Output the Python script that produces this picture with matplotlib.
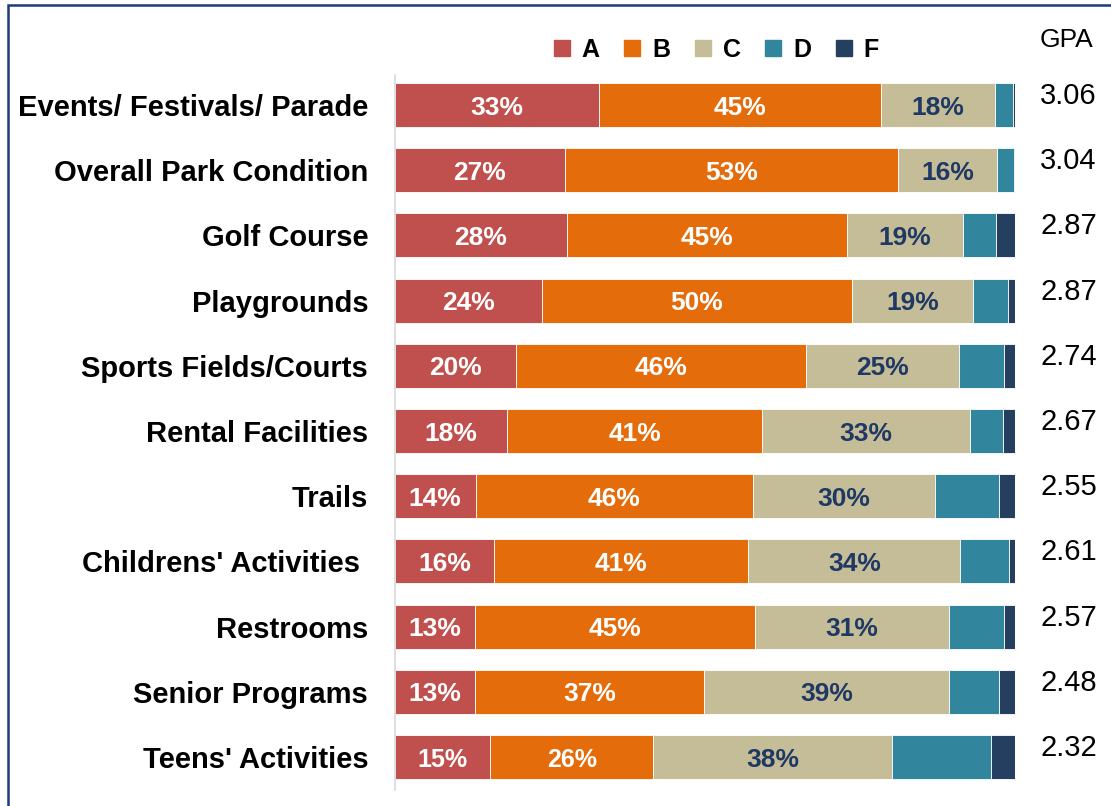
import numpy as np
import matplotlib
matplotlib.use('Agg')
import matplotlib.pyplot as plt
from matplotlib.patches import Rectangle
from matplotlib.lines import Line2D

plt.rcParams['font.family'] = ['Liberation Sans', 'DejaVu Sans']

categories = ['Events/ Festivals/ Parade', 'Overall Park Condition', 'Golf Course',
              'Playgrounds', 'Sports Fields/Courts', 'Rental Facilities', 'Trails',
              "Childrens' Activities ", 'Restrooms', 'Senior Programs', "Teens' Activities"]

# share of grades (%)
grade_a = [33.0, 27.5, 27.8, 23.8, 19.6, 18.2, 13.1, 16.1, 12.9, 12.9, 15.4]
grade_b = [45.4, 53.7, 45.1, 49.9, 46.7, 41.0, 44.6, 40.9, 45.2, 37.0, 26.3]
grade_c = [18.3, 15.9, 18.7, 19.5, 24.7, 33.5, 29.4, 34.2, 31.3, 39.5, 38.4]
grade_d = [3.0, 2.7, 5.3, 5.6, 7.3, 5.3, 10.4, 7.8, 8.9, 8.1, 16.0]
grade_f = [0.3, 0.2, 3.1, 1.2, 1.7, 2.0, 2.5, 1.0, 1.7, 2.5, 3.9]

# printed labels
label_a = [33, 27, 28, 24, 20, 18, 14, 16, 13, 13, 15]
label_b = [45, 53, 45, 50, 46, 41, 46, 41, 45, 37, 26]
label_c = [18, 16, 19, 19, 25, 33, 30, 34, 31, 39, 38]

gpa = ['3.06', '3.04', '2.87', '2.87', '2.74', '2.67', '2.55', '2.61', '2.57', '2.48', '2.32']

grades = ['A', 'B', 'C', 'D', 'F']
colors = ['#C0504D', '#E46C0A', '#C4BD97', '#31859C', '#243F60']
navy = '#1F3864'

fig = plt.figure(figsize=(11.11, 8.06), dpi=100)
ax = fig.add_axes([0.3551, 0.01985, 0.5585, 0.8871])

y = np.arange(len(categories))
h = 0.675
series = [grade_a, grade_b, grade_c, grade_d, grade_f]
left = np.zeros(len(categories))
for vals, col in zip(series, colors):
    ax.barh(y, vals, left=left, height=h, color=col, edgecolor='white', linewidth=0.6)
    left = left + np.array(vals)

# small dark ledge at the end of each bar
lh = 0.07
ax.barh(y + h / 2 - lh / 2, 0.8, left=left, height=lh, color=colors[4], linewidth=0)

# value labels
narrow = ['Liberation Sans Narrow', 'Liberation Sans', 'DejaVu Sans']
ty = y + 0.04
for i in range(len(categories)):
    last = i == len(categories) - 1
    kw = dict(family=narrow, fontsize=18) if last else dict(fontsize=19)
    ax.text(grade_a[i] / 2, ty[i], f'{label_a[i]}%', ha='center', va='center',
            color='white', fontweight='bold', **kw)
    ax.text(grade_a[i] + grade_b[i] / 2, ty[i], f'{label_b[i]}%', ha='center', va='center',
            color='white', fontweight='bold', **kw)
    ax.text(grade_a[i] + grade_b[i] + grade_c[i] / 2, ty[i], f'{label_c[i]}%', ha='center',
            va='center', color=navy, fontsize=19, fontweight='bold')
    ax.annotate(gpa[i], xy=(1, y[i]), xycoords=('axes fraction', 'data'),
                xytext=(18, 6.5), textcoords='offset points', ha='left', va='center',
                fontsize=21)

fig.text(1040 / 1111, 1 - 40 / 806, 'GPA', ha='left', va='center', fontsize=19)

ax.set_xlim(0, 100)
ax.set_ylim(10.506, -0.46)
ax.set_yticks(y)
ax.set_yticklabels(categories, fontsize=21, fontweight='bold')
ax.tick_params(axis='y', length=0, pad=19)
ax.set_xticks([])
for s in ['top', 'right', 'bottom']:
    ax.spines[s].set_visible(False)
ax.spines['left'].set_color('#D9D9D9')
ax.spines['left'].set_linewidth(1.2)

handles = [Line2D([], [], marker='s', linestyle='', markersize=11, color=c) for c in colors]
fig.legend(handles, grades, loc='center', bbox_to_anchor=(716 / 1111, 1 - 50 / 806),
           ncol=5, frameon=False, handlelength=0.7, handletextpad=0.45,
           columnspacing=0.95, prop={'weight': 'bold', 'size': 18})

# frame around the slide
fig.patches.append(Rectangle((8 / 1111, -0.5), 2, 1.5 - 5 / 806, transform=fig.transFigure,
                             fill=False, edgecolor='#1F3A7A', linewidth=1.8))

fig.savefig('out.png', dpi=100)
